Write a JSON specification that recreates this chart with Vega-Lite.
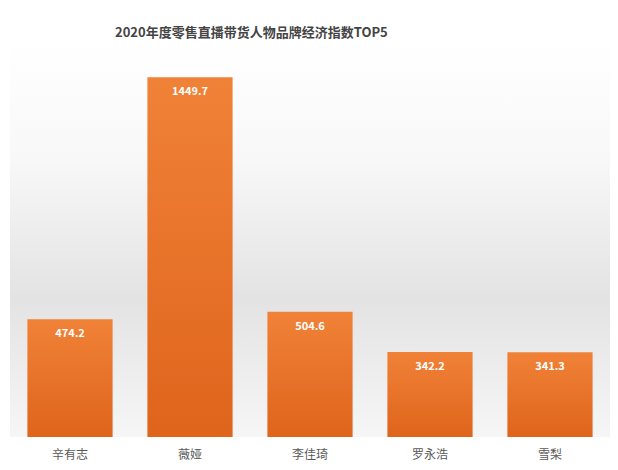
{
  "$schema": "https://vega.github.io/schema/vega-lite/v6.json",
  "width": 600,
  "height": 397,
  "autosize": "none",
  "padding": {"left": 10, "top": 40, "right": 8, "bottom": 33},
  "background": "white",
  "view": {
    "stroke": null,
    "fill": {
      "gradient": "linear", "x1": 0, "y1": 0, "x2": 0, "y2": 1,
      "stops": [
        {"offset": 0, "color": "#ffffff"},
        {"offset": 0.3, "color": "#f8f8f8"},
        {"offset": 0.65, "color": "#e3e3e3"},
        {"offset": 1, "color": "#f6f6f6"}
      ]
    }
  },
  "title": {
    "text": "2020年度零售直播带货人物品牌经济指数TOP5",
    "anchor": "start",
    "dx": 105,
    "offset": 0,
    "fontSize": 13,
    "font": "Noto Sans CJK SC",
    "fontWeight": "bold",
    "color": "#444444"
  },
  "data": {
    "values": [
      {"name": "辛有志", "value": 474.2},
      {"name": "薇娅", "value": 1449.7},
      {"name": "李佳琦", "value": 504.6},
      {"name": "罗永浩", "value": 342.2},
      {"name": "雪梨", "value": 341.3}
    ]
  },
  "encoding": {
    "x": {
      "field": "name", "type": "nominal", "sort": null,
      "scale": {"paddingInner": 0.29, "paddingOuter": 0.145},
      "axis": {
        "title": null, "domain": false, "ticks": false, "grid": false,
        "labelAngle": 0, "labelPadding": 12, "labelFontSize": 12,
        "labelFont": "Noto Sans CJK SC", "labelColor": "#595959"
      }
    },
    "y": {
      "field": "value", "type": "quantitative",
      "scale": {"domain": [0, 1600], "nice": false},
      "axis": null
    }
  },
  "layer": [
    {
      "mark": {
        "type": "bar",
        "color": {
          "gradient": "linear", "x1": 0, "y1": 0, "x2": 0, "y2": 1,
          "stops": [
            {"offset": 0, "color": "#F08237"},
            {"offset": 1, "color": "#DF641C"}
          ]
        }
      }
    },
    {
      "mark": {
        "type": "text", "baseline": "top", "dy": 9,
        "color": "white", "fontWeight": "bold", "fontSize": 11,
        "font": "Noto Sans CJK SC"
      },
      "encoding": {
        "text": {"field": "value", "type": "quantitative", "format": ".1f"}
      }
    }
  ]
}
